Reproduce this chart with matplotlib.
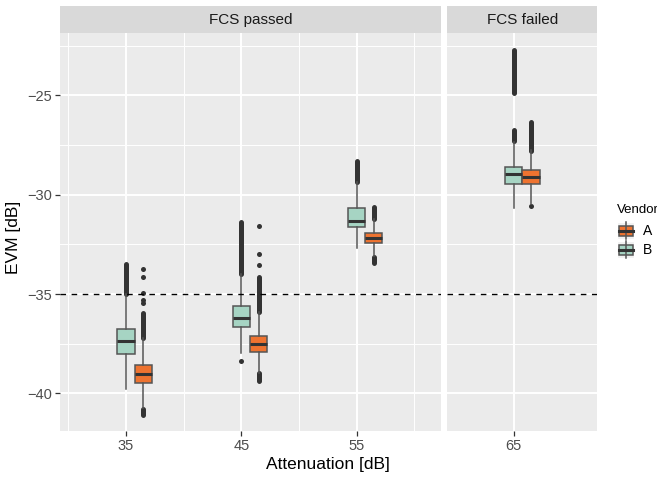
import matplotlib.pyplot as plt
from matplotlib.patches import Rectangle

plt.rcParams['font.family'] = ['Liberation Sans', 'DejaVu Sans']

# attenuation levels per facet
passed_att = [35, 45, 55]
failed_att = [65]
attenuation = passed_att + failed_att

# box stats per vendor: whisker low, Q1, median, Q3, whisker high
b_lo = [-39.8, -37.95, -32.7, -30.66]
b_q1 = [-38.0, -36.68, -31.64, -29.46]
b_med = [-37.35, -36.19, -31.33, -28.98]
b_q3 = [-36.75, -35.59, -30.69, -28.6]
b_hi = [-35.0, -34.0, -29.35, -27.35]

a_lo = [-40.75, -39.0, -33.1, -30.45]
a_q1 = [-39.46, -37.9, -32.45, -29.46]
a_med = [-39.03, -37.5, -32.17, -29.13]
a_q3 = [-38.57, -37.11, -31.95, -28.78]
a_hi = [-37.23, -35.9, -31.2, -27.76]

# dense runs of outliers (low, high) and single outliers
b_bands = {35: [(-35.0, -33.5)], 45: [(-34.0, -31.36)], 55: [(-29.35, -28.3)],
           65: [(-27.3, -26.75), (-24.9, -22.72)]}
b_dots = {35: [], 45: [-38.36], 55: [], 65: []}
a_bands = {35: [(-41.1, -40.8), (-37.23, -35.97)], 45: [(-39.36, -39.0), (-35.9, -34.16)],
           55: [(-33.46, -33.15), (-31.2, -30.6)], 65: [(-27.8, -26.33)]}
a_dots = {35: [-35.47, -35.3, -34.96, -34.13, -33.76], 45: [-33.54, -33.0, -31.56],
          55: [], 65: [-30.55]}

threshold = -35
col_a = '#EE7330'
col_b = '#A6D4C3'
dodge = 1.5

W, H = 657, 479
fig = plt.figure(figsize=(W / 100, H / 100), dpi=100)


def px_axes(x0, y0, x1, y1):
    return fig.add_axes([x0 / W, 1 - y1 / H, (x1 - x0) / W, (y1 - y0) / H])


ax1 = px_axes(60, 33, 441.3, 430.7)
ax2 = px_axes(447.3, 33, 597.3, 430.7)
s1 = px_axes(60, 6, 441.3, 33)
s2 = px_axes(447.3, 6, 597.3, 33)


def draw(ax, atts):
    for att in atts:
        i = attenuation.index(att)
        for vend, pos, col, lo, q1, med, q3, hi, bands, dots in [
            ('B', att, col_b, b_lo, b_q1, b_med, b_q3, b_hi, b_bands, b_dots),
            ('A', att + dodge, col_a, a_lo, a_q1, a_med, a_q3, a_hi, a_bands, a_dots),
        ]:
            for lo_b, hi_b in bands[att]:
                ax.plot([pos, pos], [lo_b, hi_b], color='#333333', lw=3.6,
                        solid_capstyle='round', zorder=2)
            if dots[att]:
                ax.scatter([pos] * len(dots[att]), dots[att], s=13, color='#333333',
                           linewidths=0, zorder=2)
            stats = [dict(whislo=lo[i], q1=q1[i], med=med[i], q3=q3[i], whishi=hi[i],
                          fliers=[])]
            ax.bxp(stats, positions=[pos], widths=1.5, patch_artist=True,
                   showcaps=False, showfliers=False, manage_ticks=False,
                   boxprops=dict(facecolor=col, edgecolor='#555555', lw=1.1),
                   whiskerprops=dict(color='#555555', lw=1.1),
                   medianprops=dict(color='#333333', lw=2.2),
                   zorder=3)
    ax.axhline(threshold, color='black', lw=1.0, ls=(0, (4, 4)), zorder=4)


draw(ax1, passed_att)
draw(ax2, failed_att)

for ax in (ax1, ax2):
    ax.set_facecolor('#EBEBEB')
    ax.set_ylim(-41.88, -21.86)
    ax.set_yticks([-40, -35, -30, -25])
    ax.set_yticks([-37.5, -32.5, -27.5, -22.5], minor=True)
    for s in ax.spines.values():
        s.set_visible(False)
    ax.grid(True, which='major', color='white', lw=1.4)
    ax.grid(True, which='minor', color='white', lw=0.7)
    ax.set_axisbelow(True)
    ax.tick_params(which='major', colors='#333333', labelcolor='#4D4D4D',
                   length=3.5, width=0.9, labelsize=10.5, pad=2.5)
    ax.tick_params(which='minor', length=0)

ax1.set_xlim(29.28, 62.35)
ax1.set_xticks(passed_att)
ax1.set_xticks([30, 40, 50, 60], minor=True)
ax2.set_xlim(59.24, 72.25)
ax2.set_xticks(failed_att)
ax2.tick_params(axis='y', left=False, labelleft=False)

for s, label in [(s1, 'FCS passed'), (s2, 'FCS failed')]:
    s.set_facecolor('#D9D9D9')
    s.set_xticks([])
    s.set_yticks([])
    for sp in s.spines.values():
        sp.set_visible(False)
    s.text(0.5, 0.47, label, ha='center', va='center', fontsize=11,
           color='#1A1A1A', transform=s.transAxes)

fig.text(327.5 / W, 1 - 464 / H, 'Attenuation [dB]', ha='center', va='center',
         fontsize=12.5)
fig.text(14 / W, 1 - 237 / H, 'EVM [dB]', ha='center', va='center',
         rotation=90, fontsize=12.5)

# legend drawn by hand in pixel coordinates
lg = fig.add_axes([0, 0, 1, 1], zorder=5)
lg.set_xlim(0, W)
lg.set_ylim(H, 0)
lg.axis('off')
lg.text(616.5, 210, 'Vendor', ha='left', va='center', fontsize=9.5)
for cy, col, name in [(230.5, col_a, 'A'), (249.5, col_b, 'B')]:
    lg.add_patch(Rectangle((617, cy - 8.5), 17, 17, facecolor='#F2F2F2',
                           edgecolor='white', lw=0.8))
    lg.plot([625.5, 625.5], [cy - 8.5, cy + 8.5], color='#555555', lw=1.1)
    lg.add_patch(Rectangle((618.5, cy - 5), 14, 10, facecolor=col,
                           edgecolor='#555555', lw=1.1))
    lg.plot([618.5, 632.5], [cy, cy], color='#333333', lw=2.2)
    lg.text(643, cy, name, ha='left', va='center', fontsize=10)

fig.savefig('out.png', dpi=100)
